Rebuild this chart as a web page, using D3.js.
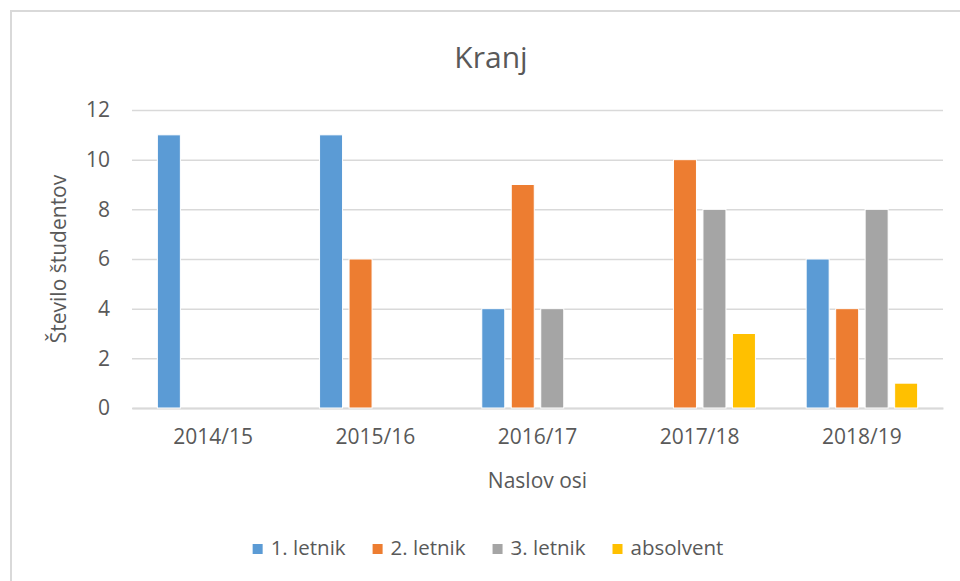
<!DOCTYPE html>
<html>
<head>
<meta charset="utf-8">
<script src="https://cdn.jsdelivr.net/npm/d3@7"></script>
<style>
  html, body { margin: 0; padding: 0; background: #fff; }
  svg { display: block; font-family: "Open Sans", sans-serif; }
</style>
</head>
<body>
<div id="container"></div>
<script>
// data
const years = ['2014/15', '2015/16', '2016/17', '2017/18', '2018/19'];
const seriesNames = ['1. letnik', '2. letnik', '3. letnik', 'absolvent'];
const letnik1 = [11, 11, 4, 0, 6];
const letnik2 = [0, 6, 9, 10, 4];
const letnik3 = [0, 0, 4, 8, 8];
const absolvent = [0, 0, 0, 3, 1];
const yTicks = [0, 2, 4, 6, 8, 10, 12];

const colors = ['#5B9BD5', '#ED7D31', '#A5A5A5', '#FFC000'];
const textColor = '#595959';
const fontFamily = '"Open Sans", sans-serif';

const seriesValues = [letnik1, letnik2, letnik3, absolvent];
const rows = years.map((y, i) => ({
  year: y,
  values: seriesNames.map((s, j) => ({ key: s, value: seriesValues[j][i] }))
}));

const width = 960;
const height = 581;

const margin = { top: 110, right: 17, bottom: 173, left: 132 };
const innerW = width - margin.left - margin.right;
const innerH = height - margin.top - margin.bottom;

const svg = d3.select('#container')
  .append('svg')
  .attr('width', width)
  .attr('height', height);

// chart border
svg.append('rect')
  .attr('x', 11)
  .attr('y', 11)
  .attr('width', 970)
  .attr('height', 600)
  .attr('fill', 'none')
  .attr('stroke', '#d9d9d9')
  .attr('stroke-width', 2);

const g = svg.append('g')
  .attr('transform', `translate(${margin.left}, ${margin.top})`);

// scales
const x0 = d3.scaleBand()
  .domain(years)
  .range([0, innerW])
  .padding(0);

const x1 = d3.scaleBand()
  .domain(seriesNames)
  .range([0, x0.bandwidth()])
  .paddingInner(0.22)
  .paddingOuter(0.86);

const y = d3.scaleLinear()
  .domain([0, 12])
  .range([innerH, 0]);

const color = d3.scaleOrdinal()
  .domain(seriesNames)
  .range(colors);

/*==================================================
    GRID + Y AXIS
===================================================*/
const yAxis = d3.axisLeft(y)
  .tickValues(yTicks)
  .tickSize(-innerW)
  .tickPadding(22);

const yG = g.append('g')
  .call(yAxis)
  .attr('font-family', fontFamily);
yG.select('.domain').remove();
yG.selectAll('.tick line')
  .attr('stroke', '#d9d9d9')
  .attr('stroke-width', 1.5);
yG.selectAll('.tick text')
  .attr('fill', textColor)
  .style('font-size', '21px');

/*==================================================
    X AXIS
===================================================*/
const xAxis = d3.axisBottom(x0)
  .tickSize(0)
  .tickPadding(21);

const xG = g.append('g')
  .attr('transform', `translate(0, ${innerH})`)
  .call(xAxis)
  .attr('font-family', fontFamily);
xG.select('.domain')
  .attr('stroke', '#d9d9d9')
  .attr('stroke-width', 2);
xG.selectAll('.tick text')
  .attr('fill', textColor)
  .style('font-size', '21px');

/*==================================================
    BARS
===================================================*/
g.append('g')
  .selectAll('g')
  .data(rows)
  .join('g')
  .attr('transform', d => `translate(${x0(d.year)}, 0)`)
  .selectAll('rect')
  .data(d => d.values.filter(v => v.value > 0))
  .join('rect')
  .attr('x', d => x1(d.key))
  .attr('y', d => y(d.value))
  .attr('width', x1.bandwidth())
  .attr('height', d => innerH - y(d.value))
  .attr('fill', d => color(d.key))
  .attr('stroke', '#fff')
  .attr('stroke-width', 1);

/*==================================================
    TITLES
===================================================*/
svg.append('text')
  .attr('x', 491)
  .attr('y', 68)
  .attr('text-anchor', 'middle')
  .attr('fill', textColor)
  .style('font-size', '30px')
  .text('Kranj');

svg.append('text')
  .attr('transform', `translate(66, ${margin.top + innerH / 2}) rotate(-90)`)
  .attr('text-anchor', 'middle')
  .attr('fill', textColor)
  .style('font-size', '21px')
  .text('Število študentov');

svg.append('text')
  .attr('x', margin.left + innerW / 2)
  .attr('y', 488)
  .attr('text-anchor', 'middle')
  .attr('fill', textColor)
  .style('font-size', '21px')
  .text('Naslov osi');

/*==================================================
    LEGEND
===================================================*/
const legend = svg.append('g');
let lx = 0;
seriesNames.forEach((s, i) => {
  const item = legend.append('g').attr('transform', `translate(${lx}, 0)`);
  item.append('rect')
    .attr('x', 0)
    .attr('y', -11)
    .attr('width', 10)
    .attr('height', 10)
    .attr('fill', color(s));
  const t = item.append('text')
    .attr('x', 18)
    .attr('y', 0)
    .attr('fill', textColor)
    .style('font-size', '20.5px')
    .text(s);
  lx += 18 + t.node().getComputedTextLength() + 27;
});
const legendW = lx - 27;
legend.attr('transform', `translate(${488 - legendW / 2}, 555)`);
</script>
</body>
</html>
